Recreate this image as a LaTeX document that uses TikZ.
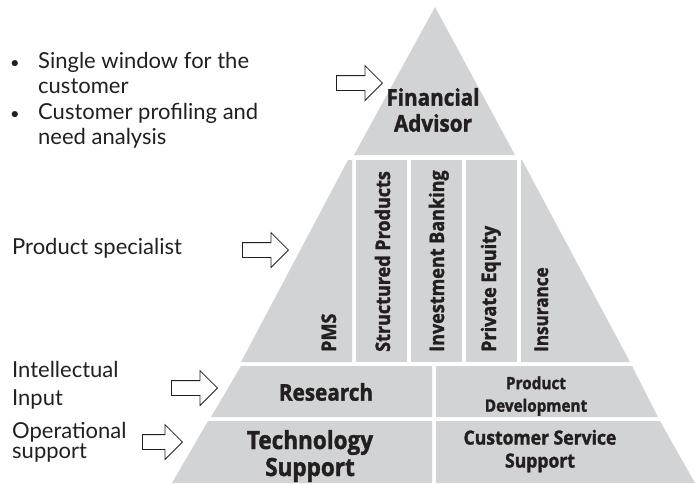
\documentclass[tikz,border=0pt]{standalone}
\usepackage{fontspec}
\setmainfont{Lato}
\newfontfamily\labfont[FakeStretch=0.9, BoldFeatures={FakeBold=1.6}]{Open Sans}
\usetikzlibrary{shapes.arrows}
\definecolor{pyrgray}{HTML}{D1D3D4}
\definecolor{ink}{HTML}{231F20}
\begin{document}
\begin{tikzpicture}[x=1pt,y=-1pt,
  band/.style={fill=pyrgray},
  big/.style={font=\labfont\bfseries\fontsize{23}{26}\selectfont, text=ink, align=center, inner sep=0pt},
  mid/.style={font=\labfont\bfseries\fontsize{17}{22.5}\selectfont, text=ink, align=center, inner sep=0pt},
  col/.style={font=\labfont\bfseries\fontsize{20}{22}\selectfont, text=ink, rotate=90, anchor=base west, inner sep=0pt},
  side/.style={font=\fontsize{22}{25.5}\selectfont, text=ink, anchor=base west, inner sep=0pt},
  blockarrow/.style={single arrow, draw=ink, fill=white, line width=0.8pt, minimum height=46pt,
     inner xsep=0pt, inner ysep=7pt, single arrow head extend=10pt, anchor=tip}
]
\useasboundingbox (0,0) rectangle (697,483);
% pyramid bands
\fill[band] (435,7) -- (515,155) -- (354,155) -- cycle;
\fill[band] (348,160) -- (352,160) -- (352,362) -- (241,362) -- cycle;
\fill[band] (356,160) rectangle (407,362);
\fill[band] (411,160) rectangle (462,362);
\fill[band] (466,160) rectangle (517,362);
\fill[band] (521,160) -- (522,160) -- (630,362) -- (521,362) -- cycle;
\fill[band] (241,366) -- (432,366) -- (432,417) -- (211,417) -- cycle;
\fill[band] (436,366) -- (632,366) -- (658,417) -- (436,417) -- cycle;
\fill[band] (208,421) -- (432,421) -- (432,483) -- (172,483) -- cycle;
\fill[band] (436,421) -- (660,421) -- (695,483) -- (436,483) -- cycle;
% labels in pyramid
\node[big] (fa) at (433,110) {Financial\\Advisor};
\node[big] (res) at (326,392) {Research};
\node[big, font=\labfont\bfseries\fontsize{25}{27}\selectfont] (tech) at (310,456) {Technology\\Support};
\node[mid] (pd) at (536,396) {Product\\Development};
\node[mid, font=\labfont\bfseries\fontsize{19.5}{23}\selectfont] (css) at (540,451) {Customer Service\\Support};
\node[col] (pms) at (336,352) {PMS};
\node[col] (sp) at (390,352) {Structured Products};
\node[col] (ib) at (444,352) {Investment Banking};
\node[col] (pe) at (496,352) {Private Equity};
\node[col, font=\labfont\bfseries\fontsize{19}{22}\selectfont] (ins) at (548,352) {Insurance};
% side texts
\node[side] (bul) at (10,68) {\begin{tabular}[t]{@{}l@{}l@{}}
  \makebox[28pt][l]{\scalebox{0.75}{\textbullet}} & Single window for the\\
   & customer\\
  \makebox[28pt][l]{\scalebox{0.75}{\textbullet}} & Customer profiling and\\
   & need analysis
  \end{tabular}};
\node[side] (ps) at (12,254) {Product specialist};
\node[side] (ii) at (12,377) {\begin{tabular}[t]{@{}l@{}}Intellectual\\[2.5pt] Input\end{tabular}};
\node[side] (os) at (12,438) {\begin{tabular}[t]{@{}l@{}}Operational\\[-5.5pt] support\end{tabular}};
% block arrows
\node[blockarrow] (a1) at (383,83) {};
\node[blockarrow] (a2) at (289,250) {};
\node[blockarrow] (a3) at (218,388) {};
\node[blockarrow, minimum height=40pt] (a4) at (183,442) {};
\end{tikzpicture}
\end{document}
